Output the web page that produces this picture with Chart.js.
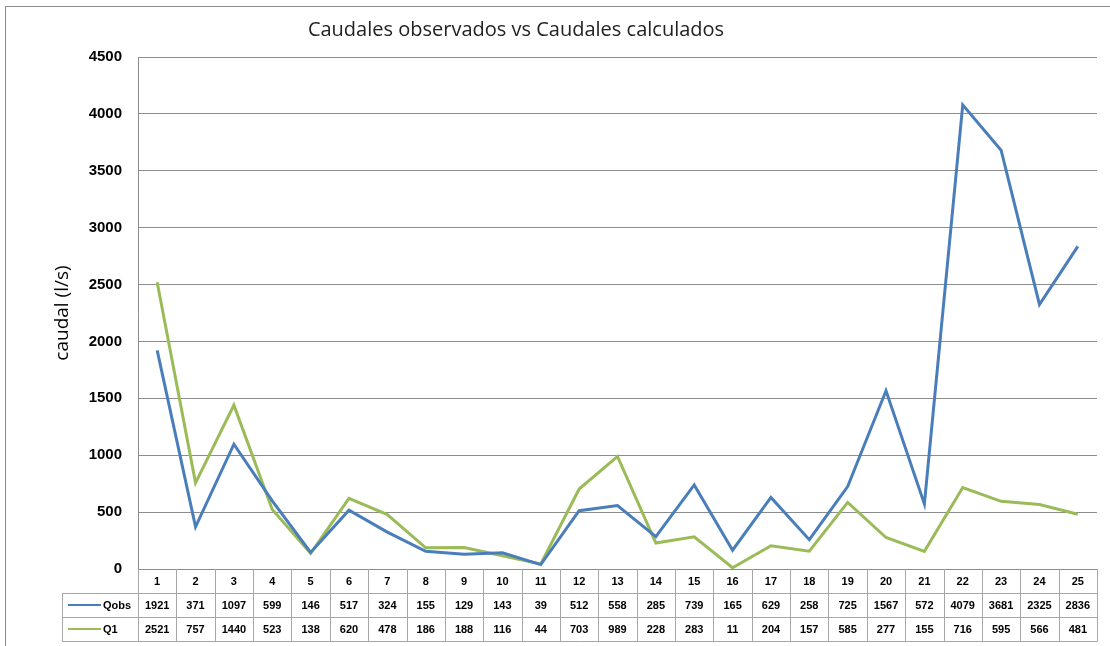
<!DOCTYPE html>
<html lang="es">
<head>
    <meta charset="UTF-8">
    <title>Caudales observados vs Caudales calculados</title>
    <script src="https://cdn.jsdelivr.net/npm/chart.js"></script>
    <style>
        html, body { margin: 0; padding: 0; background: #fff; }
        #wrap { width: 1110px; height: 646px; }
    </style>
</head>
<body>
    <div id="wrap"><canvas id="caudalChart" width="1110" height="646"></canvas></div>

    <script>
        const categories = ['1','2','3','4','5','6','7','8','9','10','11','12','13','14','15','16','17','18','19','20','21','22','23','24','25'];
        const qobs = [1921, 371, 1097, 599, 146, 517, 324, 155, 129, 143, 39, 512, 558, 285, 739, 165, 629, 258, 725, 1567, 572, 4079, 3681, 2325, 2836];
        const q1 = [2521, 757, 1440, 523, 138, 620, 478, 186, 188, 116, 44, 703, 989, 228, 283, 11, 204, 157, 585, 277, 155, 716, 595, 566, 481];
        const seriesNames = ['Qobs', 'Q1'];
        const seriesColors = ['#4a7ebb', '#9bbb59'];
        const yTicks = [0, 500, 1000, 1500, 2000, 2500, 3000, 3500, 4000, 4500];

        const titleText = 'Caudales observados vs Caudales calculados';
        const tableFont = 'bold 11px "Liberation Sans", Arial, sans-serif';

        // frame, title and the data table under the plot
        const tablePlugin = {
            id: 'dataTable',
            beforeDraw(chart) {
                const ctx = chart.ctx;
                ctx.save();
                ctx.fillStyle = '#fff';
                ctx.fillRect(0, 0, chart.width, chart.height);
                ctx.strokeStyle = '#8c8c8c';
                ctx.lineWidth = 1;
                ctx.strokeRect(5.5, 6.5, chart.width, chart.height);
                ctx.restore();
            },
            afterDraw(chart) {
                const ctx = chart.ctx;
                const area = chart.chartArea;
                const xs = chart.scales.x;
                const colW = (area.right - area.left) / categories.length;
                const rowH = 24;
                const top = area.bottom;
                const legLeft = 62;

                ctx.save();
                // title
                ctx.fillStyle = '#222';
                ctx.font = '20px "Open Sans", sans-serif';
                ctx.textAlign = 'center';
                ctx.textBaseline = 'middle';
                ctx.fillText(titleText, 516, 30);

                // grid of the table
                ctx.strokeStyle = '#a6a6a6';
                ctx.lineWidth = 1;
                ctx.beginPath();
                for (let i = 0; i <= categories.length; i++) {
                    const x = Math.round(area.left + i * colW) + 0.5;
                    ctx.moveTo(x, top);
                    ctx.lineTo(x, top + rowH * 3);
                }
                ctx.moveTo(legLeft + 0.5, top + rowH);
                ctx.lineTo(legLeft + 0.5, top + rowH * 3);
                for (let r = 1; r <= 3; r++) {
                    const y = Math.round(top + rowH * r) + 0.5;
                    ctx.moveTo(legLeft, y);
                    ctx.lineTo(area.right + 0.5, y);
                }
                ctx.stroke();

                // header numbers and values
                ctx.fillStyle = '#000';
                ctx.font = tableFont;
                ctx.textAlign = 'center';
                const rows = [qobs, q1];
                categories.forEach((c, i) => {
                    const cx = xs.getPixelForValue(i);
                    ctx.fillText(c, cx, top + rowH / 2 + 1);
                    rows.forEach((vals, r) => {
                        ctx.fillText(String(vals[i]), cx, top + rowH * (r + 1) + rowH / 2 + 1);
                    });
                });

                // legend keys
                ctx.textAlign = 'left';
                seriesNames.forEach((name, r) => {
                    const cy = top + rowH * (r + 1) + rowH / 2;
                    ctx.strokeStyle = seriesColors[r];
                    ctx.lineWidth = 2;
                    ctx.beginPath();
                    ctx.moveTo(68, cy);
                    ctx.lineTo(101, cy);
                    ctx.stroke();
                    ctx.fillStyle = '#000';
                    ctx.fillText(name, 103, cy + 1);
                });
                ctx.restore();
            }
        };

        const ctx = document.getElementById('caudalChart').getContext('2d');
        new Chart(ctx, {
            type: 'line',
            data: {
                labels: categories,
                datasets: [
                    { label: seriesNames[0], data: qobs, borderColor: seriesColors[0], backgroundColor: seriesColors[0], borderWidth: 3, pointRadius: 0, tension: 0 },
                    { label: seriesNames[1], data: q1, borderColor: seriesColors[1], backgroundColor: seriesColors[1], borderWidth: 3, pointRadius: 0, tension: 0 }
                ]
            },
            options: {
                responsive: false,
                animation: false,
                layout: { padding: { top: 57, left: 51, right: 13, bottom: 77 } },
                plugins: {
                    legend: { display: false },
                    title: { display: false },
                    tooltip: { enabled: false }
                },
                scales: {
                    x: {
                        offset: true,
                        grid: { display: false, drawTicks: false },
                        border: { display: false },
                        ticks: { display: false },
                        afterFit(scale) { scale.height = 0; }
                    },
                    y: {
                        min: 0,
                        max: 4500,
                        afterBuildTicks(scale) { scale.ticks = yTicks.map(v => ({ value: v })); },
                        afterFit(scale) { scale.width = 87; },
                        grid: { color: '#8c8c8c', drawTicks: false },
                        border: { display: true, color: '#8c8c8c' },
                        ticks: {
                            padding: 16,
                            color: '#000',
                            font: { family: '"Liberation Sans", Arial, sans-serif', size: 15, weight: 'bold' },
                            callback: v => String(v)
                        },
                        title: {
                            display: true,
                            text: 'caudal (l/s)',
                            color: '#000',
                            padding: 0,
                            font: { family: '"Open Sans", sans-serif', size: 19 }
                        }
                    }
                }
            },
            plugins: [tablePlugin]
        });
    </script>
</body>
</html>
